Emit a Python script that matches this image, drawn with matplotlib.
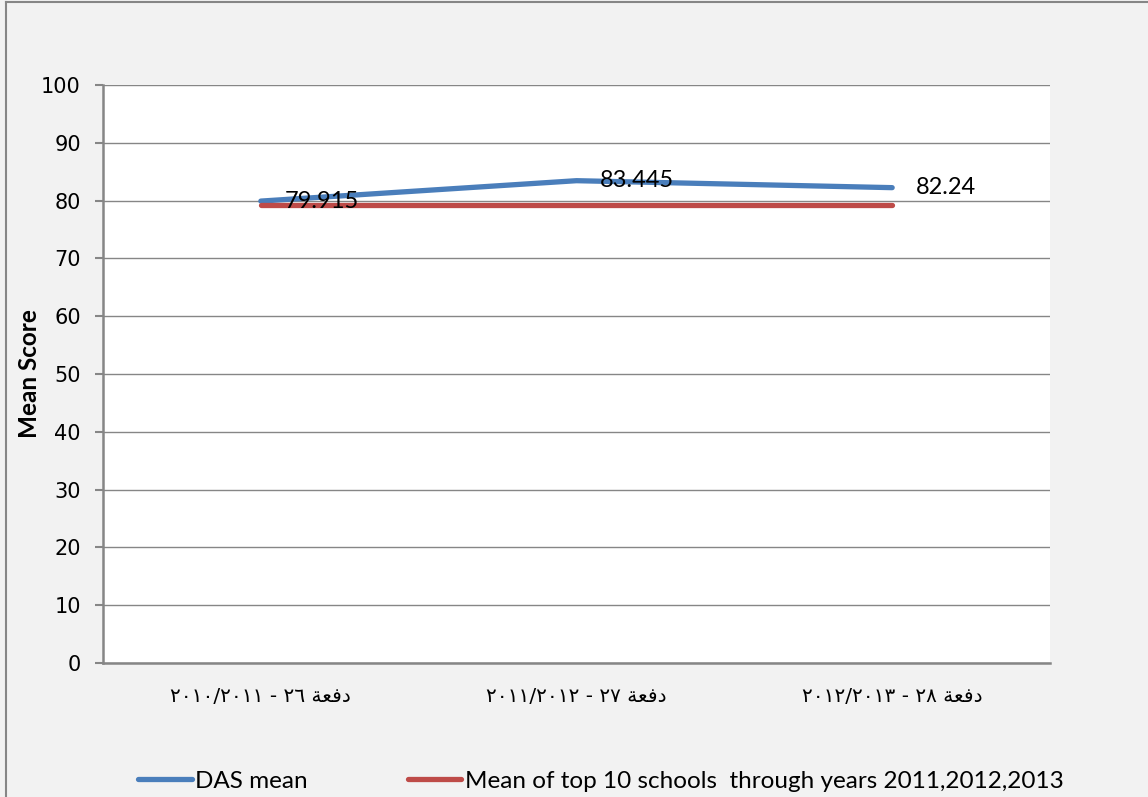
import matplotlib.pyplot as plt
from matplotlib.lines import Line2D

# --- data ---
cohorts = ["دفعة ٢٦ - ٢٠١٠/٢٠١١", "دفعة ٢٧ - ٢٠١١/٢٠١٢", "دفعة ٢٨ - ٢٠١٢/٢٠١٣"]
das_mean = [79.915, 83.445, 82.24]
top10_mean = [79.3, 79.3, 79.3]
series_names = ["DAS mean", "Mean of top 10 schools  through years 2011,2012,2013"]

# matplotlib has no bidi / arabic shaping, so use presentation forms in visual order
FORMS = {"د": "\uFEA9", "ف": "\uFED3", "ع": "\uFECC", "ة": "\uFE94"}


def visual(label):
    word, rest = label.split(" ", 1)
    shaped = "".join(FORMS.get(c, c) for c in word)[::-1]
    return " ".join(rest.split(" ")[::-1]) + " " + shaped


W, H = 1148, 797
fig = plt.figure(figsize=(W / 100, H / 100), dpi=100, facecolor="#F2F2F2")
ax = fig.add_axes([103 / W, 1 - 663 / H, (1050 - 103) / W, (663 - 85) / H])
ax.set_facecolor("white")

x = range(len(cohorts))
ax.plot(x, das_mean, color="#4A7EBB", lw=3.8, solid_capstyle="round", zorder=3)
ax.plot(x, top10_mean, color="#BE4B48", lw=3.8, solid_capstyle="round", zorder=3)

for xi, v in zip(x, das_mean):
    ax.annotate(f"{v:g}", (xi, v), xytext=(17, 0), textcoords="offset points",
                ha="left", va="center", fontsize=17, family="Lato", zorder=4)

ax.set_xlim(-0.5, 2.5)
ax.set_ylim(0, 100)
ax.set_yticks(range(0, 101, 10))
ax.tick_params(axis="y", length=6, width=1.5, color="#868686", labelsize=15, pad=10)
ax.tick_params(axis="x", length=0, pad=17)
ax.set_xticks(list(x))
ax.set_xticklabels([visual(c) for c in cohorts], fontsize=14.5, family="DejaVu Sans")
ax.grid(axis="y", color="#868686", lw=1)
ax.set_axisbelow(True)
for s in ["top", "right"]:
    ax.spines[s].set_visible(False)
for s in ["left", "bottom"]:
    ax.spines[s].set_color("#868686")
    ax.spines[s].set_linewidth(1.8)

ax.set_ylabel("Mean Score", fontsize=17.5, fontweight="bold", family="Lato", labelpad=0)

handles = [Line2D([], [], color="#4A7EBB", lw=3.8, solid_capstyle="round"),
           Line2D([], [], color="#BE4B48", lw=3.8, solid_capstyle="round")]
fig.legend(handles, series_names, loc="center", bbox_to_anchor=(601 / W, 16 / H),
           ncol=2, frameon=False, prop={"family": "Lato", "size": 17.5},
           handlelength=2.2, handletextpad=0.16, columnspacing=4.1)

# chart area border (left and top edges only visible)
fig.add_artist(Line2D([6 / W, 6 / W], [0, 1 - 2 / H], color="#868686", lw=1.5))
fig.add_artist(Line2D([6 / W, 1], [1 - 2 / H, 1 - 2 / H], color="#868686", lw=1.5))

fig.savefig("out.png", dpi=100, facecolor=fig.get_facecolor())
